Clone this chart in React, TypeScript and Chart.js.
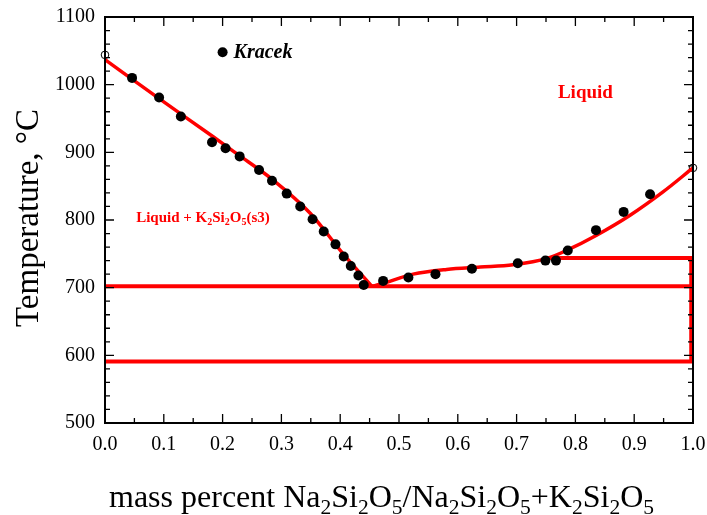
import React, { useEffect, useRef } from "react";
import { Chart, registerables } from "chart.js";

Chart.register(...registerables);

// Kracek experimental points (mass fraction, °C)
const kracekX = [0.046, 0.092, 0.129, 0.182, 0.205, 0.229, 0.262, 0.284, 0.309, 0.332, 0.353, 0.372, 0.392, 0.406, 0.418, 0.431, 0.44, 0.473, 0.516, 0.562, 0.624, 0.702, 0.749, 0.767, 0.787, 0.835, 0.882, 0.927];
const kracekT = [1010, 981, 953, 915, 906, 894, 874, 858, 839, 820, 801, 783, 764, 746, 732, 718, 704, 710, 715, 720, 728, 736, 740, 740, 755, 785, 812, 838];

// calculated liquidus, K2Si2O5 side
const leftLiqX = [0, 0.088, 0.184, 0.224, 0.286, 0.349, 0.405, 0.454];
const leftLiqT = [1037, 982, 923, 898, 859, 810, 750, 702];

// calculated liquidus, Na2Si2O5 side
const rightLiqX = [0.454, 0.468, 0.524, 0.581, 0.638, 0.694, 0.751, 0.785, 0.836, 0.893, 0.949, 1.0];
const rightLiqT = [702, 705, 720, 727, 730.5, 734, 743, 755, 777.5, 807, 841.5, 877];

// invariant / phase boundary lines
const eutecticX = [0, 1];
const eutecticT = [702, 702];
const lowerX = [0, 1];
const lowerT = [591, 591];
const upperX = [0.75, 1];
const upperT = [744, 744];
const verticalX = [0.997, 0.997];
const verticalT = [744, 591];
const verticalX2 = [0.999, 0.999];
const verticalT2 = [744, 702];

// pure-component melting points (open circles)
const endpointX = [0, 1];
const endpointT = [1044, 877];

// tick labels
const xTicks = [0, 0.1, 0.2, 0.3, 0.4, 0.5, 0.6, 0.7, 0.8, 0.9, 1.0];
const yTicks = [500, 600, 700, 800, 900, 1000, 1100];

// annotation anchors (data coordinates)
const legendPos = { x: 0.2, t: 1048 };
const liquidLabelPos = { x: 0.817, t: 988 };
const twoPhaseLabelPos = { x: 0.053, t: 804 };

const pts = (xs: number[], ts: number[]) => xs.map((x, i) => ({ x, y: ts[i] }));

const RED = "#ff0000";
const SERIF = "'Liberation Serif', 'Times New Roman', serif";

function drawRich(
  ctx: CanvasRenderingContext2D,
  parts: { t: string; sub?: boolean }[],
  x: number,
  y: number,
  mainFont: string,
  subFont: string,
  subOffset: number,
  align: "left" | "center"
) {
  let total = 0;
  for (const p of parts) {
    ctx.font = p.sub ? subFont : mainFont;
    total += ctx.measureText(p.t).width;
  }
  let cx = align === "center" ? x - total / 2 : x;
  ctx.textAlign = "left";
  for (const p of parts) {
    ctx.font = p.sub ? subFont : mainFont;
    ctx.fillText(p.t, cx, p.sub ? y + subOffset : y);
    cx += ctx.measureText(p.t).width;
  }
}

const decorPlugin = {
  id: "decor",
  afterDatasetsDraw(chart: any) {
    const { ctx, chartArea, scales } = chart;
    const { left, right, top, bottom } = chartArea;
    const xs = scales.x;
    const ys = scales.y;
    ctx.save();

    // frame + inward ticks on all sides
    ctx.strokeStyle = "#000";
    ctx.lineWidth = 1.3;
    ctx.beginPath();
    for (let i = 0; i <= 20; i++) {
      const px = xs.getPixelForValue(i * 0.05);
      const len = i % 2 === 0 ? 9 : 5;
      ctx.moveTo(px, bottom);
      ctx.lineTo(px, bottom - len);
      ctx.moveTo(px, top);
      ctx.lineTo(px, top + len);
    }
    for (let t = 500; t <= 1100; t += 20) {
      const py = ys.getPixelForValue(t);
      const len = t % 100 === 0 ? 9 : 5;
      ctx.moveTo(left, py);
      ctx.lineTo(left + len, py);
      ctx.moveTo(right, py);
      ctx.lineTo(right - len, py);
    }
    ctx.stroke();
    ctx.lineWidth = 2;
    ctx.strokeRect(left, top, right - left, bottom - top);

    // legend
    const lx = xs.getPixelForValue(legendPos.x);
    const ly = ys.getPixelForValue(legendPos.t);
    ctx.fillStyle = "#000";
    ctx.beginPath();
    ctx.arc(lx, ly, 5, 0, Math.PI * 2);
    ctx.fill();
    ctx.font = `italic bold 20px ${SERIF}`;
    ctx.textAlign = "left";
    ctx.textBaseline = "middle";
    ctx.fillText("Kracek", lx + 11, ly + 1);

    // region labels
    ctx.fillStyle = RED;
    ctx.font = `bold 19px ${SERIF}`;
    ctx.textAlign = "center";
    ctx.fillText("Liquid", xs.getPixelForValue(liquidLabelPos.x), ys.getPixelForValue(liquidLabelPos.t));
    ctx.textBaseline = "alphabetic";
    drawRich(
      ctx,
      [
        { t: "Liquid + K" },
        { t: "2", sub: true },
        { t: "Si" },
        { t: "2", sub: true },
        { t: "O" },
        { t: "5", sub: true },
        { t: "(s3)" },
      ],
      xs.getPixelForValue(twoPhaseLabelPos.x),
      ys.getPixelForValue(twoPhaseLabelPos.t) + 5,
      `bold 15px ${SERIF}`,
      `bold 10px ${SERIF}`,
      3,
      "left"
    );

    // axis titles
    ctx.fillStyle = "#000";
    drawRich(
      ctx,
      [
        { t: "mass percent Na" },
        { t: "2", sub: true },
        { t: "Si" },
        { t: "2", sub: true },
        { t: "O" },
        { t: "5", sub: true },
        { t: "/Na" },
        { t: "2", sub: true },
        { t: "Si" },
        { t: "2", sub: true },
        { t: "O" },
        { t: "5", sub: true },
        { t: "+K" },
        { t: "2", sub: true },
        { t: "Si" },
        { t: "2", sub: true },
        { t: "O" },
        { t: "5", sub: true },
      ],
      381.5,
      507,
      `32px ${SERIF}`,
      `21.5px ${SERIF}`,
      7,
      "center"
    );

    ctx.translate(38, 218);
    ctx.rotate(-Math.PI / 2);
    ctx.font = `33px ${SERIF}`;
    ctx.textAlign = "center";
    ctx.textBaseline = "alphabetic";
    ctx.fillText("Temperature, \u00B0C", 0, 0);

    ctx.restore();
  },
};

export default function App() {
  const ref = useRef<HTMLCanvasElement | null>(null);

  useEffect(() => {
    if (!ref.current) return;
    const lineDs = (data: any[], width = 4) => ({
      type: "scatter" as const,
      data,
      showLine: true,
      borderColor: RED,
      backgroundColor: RED,
      borderWidth: width,
      pointRadius: 0,
      tension: 0,
      clip: false as any,
    });
    const chart = new Chart(ref.current, {
      type: "scatter",
      data: {
        datasets: [
          {
            data: pts(kracekX, kracekT),
            pointRadius: 5,
            pointBackgroundColor: "#000",
            pointBorderColor: "#000",
            pointBorderWidth: 0,
            showLine: false,
            clip: false as any,
          } as any,
          { ...lineDs(pts(leftLiqX, leftLiqT), 3.5), cubicInterpolationMode: "monotone" } as any,
          { ...lineDs(pts(rightLiqX, rightLiqT), 3.5), cubicInterpolationMode: "monotone" } as any,
          lineDs(pts(eutecticX, eutecticT)),
          lineDs(pts(lowerX, lowerT)),
          lineDs(pts(upperX, upperT)),
          lineDs(pts(verticalX, verticalT)),
          lineDs(pts(verticalX2, verticalT2), 2),
          {
            data: pts(endpointX, endpointT),
            pointRadius: 3.8,
            pointBackgroundColor: "#fff",
            pointBorderColor: "#000",
            pointBorderWidth: 1,
            showLine: false,
            clip: false as any,
          } as any,
        ],
      },
      options: {
        animation: false,
        responsive: true,
        maintainAspectRatio: false,
        layout: { padding: { top: 17, right: 14, left: 0, bottom: 0 } },
        plugins: { legend: { display: false }, tooltip: { enabled: false } },
        events: [],
        scales: {
          x: {
            type: "linear",
            min: 0,
            max: 1,
            grid: { display: false, drawTicks: false },
            border: { display: false },
            afterBuildTicks: (s: any) => {
              s.ticks = xTicks.map((v) => ({ value: v }));
            },
            afterFit: (s: any) => {
              s.height = 92;
              s.paddingLeft = 0;
              s.paddingRight = 0;
            },
            ticks: {
              padding: 10,
              color: "#000",
              font: { family: SERIF, size: 20 },
              maxRotation: 0,
              autoSkip: false,
              callback: (v: any) => Number(v).toFixed(1),
            },
          },
          y: {
            type: "linear",
            min: 500,
            max: 1100,
            grid: { display: false, drawTicks: false },
            border: { display: false },
            afterBuildTicks: (s: any) => {
              s.ticks = yTicks.map((v) => ({ value: v }));
            },
            afterFit: (s: any) => {
              s.width = 105;
              s.paddingTop = 0;
              s.paddingBottom = 0;
            },
            ticks: {
              padding: 10,
              color: "#000",
              font: { family: SERIF, size: 20 },
              autoSkip: false,
              callback: (v: any) => String(v),
            },
          },
        },
      },
      plugins: [decorPlugin],
    });
    return () => chart.destroy();
  }, []);

  return (
    <div style={{ position: "absolute", left: 0, top: 0, width: 707, height: 515, background: "#fff" }}>
      <canvas ref={ref} />
    </div>
  );
}
